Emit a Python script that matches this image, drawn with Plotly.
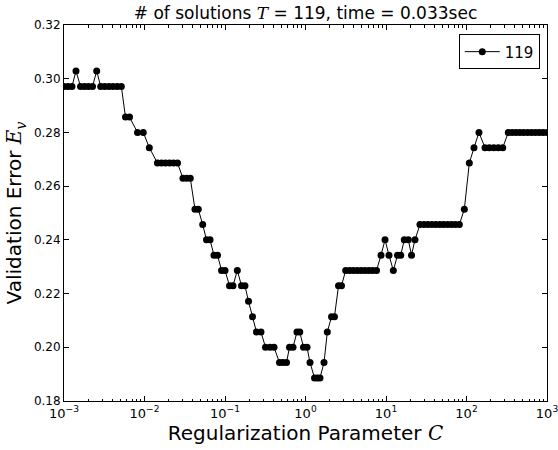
import numpy as np
import plotly.graph_objects as go

# log10 of regularization parameter C for each solution
log10_C = [
    -3.000, -2.950, -2.901, -2.851, -2.795, -2.745, -2.696, -2.646, -2.594, -2.544,
    -2.493, -2.442, -2.391, -2.339, -2.288, -2.236, -2.186, -2.087, -2.015, -1.940,
    -1.839, -1.789, -1.739, -1.689, -1.640, -1.590, -1.522, -1.476, -1.431, -1.373,
    -1.332, -1.277, -1.230, -1.186, -1.137, -1.093, -1.043, -1.000, -0.944, -0.901,
    -0.847, -0.795, -0.752, -0.708, -0.658, -0.609, -0.553, -0.497, -0.441, -0.391,
    -0.323, -0.280, -0.236, -0.199, -0.155, -0.106, -0.071, -0.025, 0.019, 0.056,
    0.112, 0.147, 0.180, 0.230, 0.271, 0.323, 0.360, 0.410, 0.447, 0.499,
    0.547, 0.595, 0.643, 0.691, 0.739, 0.787, 0.834, 0.882, 0.938, 0.988,
    1.037, 1.091, 1.143, 1.183, 1.227, 1.277, 1.317, 1.360, 1.422, 1.471,
    1.520, 1.569, 1.618, 1.667, 1.715, 1.764, 1.813, 1.862, 1.911, 1.973,
    2.035, 2.093, 2.155, 2.230, 2.284, 2.339, 2.395, 2.450, 2.519, 2.567,
    2.615, 2.663, 2.711, 2.760, 2.808, 2.856, 2.904, 2.952, 3.000,
]

# validation error E_v for each solution
val_error = [
    0.2971, 0.2971, 0.2971, 0.3029, 0.2971, 0.2971, 0.2971, 0.2971, 0.3029, 0.2971,
    0.2971, 0.2971, 0.2971, 0.2971, 0.2971, 0.2857, 0.2857, 0.2800, 0.2800, 0.2743,
    0.2686, 0.2686, 0.2686, 0.2686, 0.2686, 0.2686, 0.2629, 0.2629, 0.2629, 0.2514,
    0.2514, 0.2457, 0.2400, 0.2400, 0.2343, 0.2343, 0.2286, 0.2286, 0.2229, 0.2229,
    0.2286, 0.2229, 0.2229, 0.2171, 0.2114, 0.2057, 0.2057, 0.2000, 0.2000, 0.2000,
    0.1943, 0.1943, 0.1943, 0.2000, 0.2000, 0.2057, 0.2057, 0.2000, 0.2000, 0.1943,
    0.1886, 0.1886, 0.1886, 0.1943, 0.2057, 0.2114, 0.2114, 0.2229, 0.2229, 0.2286,
    0.2286, 0.2286, 0.2286, 0.2286, 0.2286, 0.2286, 0.2286, 0.2286, 0.2343, 0.2400,
    0.2343, 0.2286, 0.2343, 0.2343, 0.2400, 0.2400, 0.2343, 0.2400, 0.2457, 0.2457,
    0.2457, 0.2457, 0.2457, 0.2457, 0.2457, 0.2457, 0.2457, 0.2457, 0.2457, 0.2514,
    0.2686, 0.2743, 0.2800, 0.2743, 0.2743, 0.2743, 0.2743, 0.2743, 0.2800, 0.2800,
    0.2800, 0.2800, 0.2800, 0.2800, 0.2800, 0.2800, 0.2800, 0.2800, 0.2800,
]

x_tick_vals = [1e-3, 1e-2, 1e-1, 1e0, 1e1, 1e2, 1e3]
x_tick_text = ["10<sup>\u22123</sup>", "10<sup>\u22122</sup>", "10<sup>\u22121</sup>",
               "10<sup>0</sup>", "10<sup>1</sup>", "10<sup>2</sup>", "10<sup>3</sup>"]
y_tick_vals = [0.18, 0.20, 0.22, 0.24, 0.26, 0.28, 0.30, 0.32]
legend_name = "119"

C = 10 ** np.array(log10_C)

MATH = "font-family:'DejaVu Serif';font-style:italic"

fig = go.Figure()
fig.add_trace(go.Scatter(
    x=C, y=val_error, mode="lines+markers", name=legend_name,
    line=dict(color="black", width=1),
    marker=dict(color="black", size=7, symbol="circle"),
    cliponaxis=True,
))

fig.update_layout(
    width=558, height=450,
    margin=dict(l=64, r=11, t=25, b=49, autoexpand=False),
    paper_bgcolor="white", plot_bgcolor="white",
    font=dict(family="DejaVu Sans", color="black", size=12),
    title=dict(
        text=f"# of solutions <span style=\"{MATH}\">T</span> = 119, time = 0.033sec",
        x=0.5, xref="paper", xanchor="center", y=0.972, yanchor="middle",
        font=dict(size=17), automargin=False,
    ),
    showlegend=True,
    legend=dict(
        x=0.985, y=0.975, xanchor="right", yanchor="top",
        bordercolor="black", borderwidth=1, bgcolor="white",
        font=dict(size=15), itemwidth=35,
    ),
)

fig.update_xaxes(
    type="log", range=[-3.0000001, 3.0000001],
    tickvals=x_tick_vals, ticktext=x_tick_text,
    ticks="inside", ticklen=5, tickcolor="black",
    minor=dict(ticks="inside", ticklen=2.5, tickcolor="black", dtick="D1", showgrid=False),
    showline=True, linecolor="black", linewidth=1, mirror="allticks",
    showgrid=False, zeroline=False, automargin=False,
    ticklabeloverflow="allow",
    tickfont=dict(size=13),
    title=dict(text=f"Regularization Parameter <span style=\"{MATH}\">C</span>",
               font=dict(size=20), standoff=4),
)
fig.update_yaxes(
    range=[0.18, 0.32],
    tickvals=y_tick_vals, tickformat=".2f",
    ticks="inside", ticklen=5, tickcolor="black",
    showline=True, linecolor="black", linewidth=1, mirror="allticks",
    showgrid=False, zeroline=False, automargin=False,
    ticklabeloverflow="allow",
    tickfont=dict(size=12),
    title=dict(text=f"Validation Error <span style=\"{MATH}\">E<sub>v</sub></span>",
               font=dict(size=20), standoff=6),
)

fig.write_html("out.html",
               config={"displayModeBar": False},
               post_script="document.body.style.margin='0';document.body.style.overflow='hidden';")
